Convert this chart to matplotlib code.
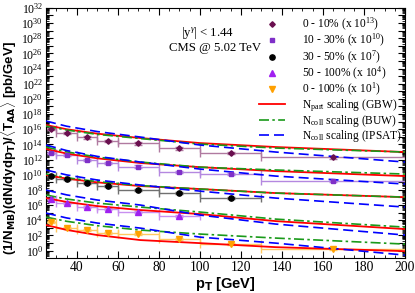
import matplotlib

matplotlib.use("Agg")
import matplotlib.pyplot as plt  # noqa: E402
import numpy as np  # noqa: E402
from matplotlib.lines import Line2D  # noqa: E402
from matplotlib.ticker import LogLocator, MultipleLocator, FixedLocator, NullFormatter, FuncFormatter  # noqa: E402

plt.rcParams["font.family"] = ["Liberation Serif", "DejaVu Serif"]
plt.rcParams["mathtext.fontset"] = "custom"
plt.rcParams["mathtext.rm"] = "Liberation Serif"
plt.rcParams["mathtext.it"] = "Liberation Serif:italic"

# pT bins of the CMS isolated-photon measurement
bin_lo = [25, 30, 40, 50, 60, 80, 100, 130]
bin_hi = [30, 40, 50, 60, 80, 100, 130, 200]

# scaled spectra (already multiplied by the factor in the legend)
cent_0_10 = [1.07e16, 2.9e15, 8.5e14, 3.0e14, 1.38e14, 3.0e13, 7.9e12, 1.95e12]
cent_10_30 = [7.9e12, 4.0e12, 8.7e11, 3.5e11, 1.2e11, 2.2e10, 1.23e10, 1.45e9]
cent_30_50 = [6.6e9, 2.7e9, 7.9e8, 3.2e8, 9.5e7, 3.8e7, 8.3e6]
cent_50_100 = [6.2e6, 1.8e6, 5.4e5, 3.0e5, 1.17e5, 3.5e4]
cent_0_100 = [5.6e3, 9.1e2, 5.0e2, 2.0e2, 1.5e2, 3.2e1, 7.1e0, 1.55e0]

# theory curves, sampled along pT (one row per centrality class)
curve_pt = [25, 35, 50, 71, 100, 137, 200]
gbw = [
    [3.6e16, 1.0e16, 2.6e15, 6.9e14, 1.5e14, 4.5e13, 9.8e12],
    [2.5e13, 6.2e12, 1.45e12, 3.5e11, 1.0e11, 3.0e10, 6.6e9],
    [9.1e9, 3.1e9, 9.8e8, 3.2e8, 1.3e8, 3.8e7, 1.1e7],
    [8.3e6, 2.6e6, 7.2e5, 2.2e5, 6.5e4, 7.6e3, 6.8e2],
    [2.3e3, 5.3e2, 1.1e2, 2.4e1, 9.5e0, 2.8e0, 8.3e-1],
]
buw = [
    [2.6e16, 7.9e15, 2.1e15, 5.9e14, 1.1e14, 3.3e13, 9.8e12],
    [4.5e13, 1.05e13, 2.1e12, 4.7e11, 1.0e11, 4.2e10, 1.23e10],
    [1.23e10, 4.0e9, 1.23e9, 3.7e8, 1.3e8, 3.8e7, 1.1e7],
    [2.1e7, 6.3e6, 1.8e6, 5.4e5, 1.2e5, 1.4e4, 1.23e3],
    [2.6e4, 7.2e3, 1.9e3, 5.0e2, 1.5e2, 4.4e1, 7.1e0],
]
ipsat = [
    [1.2e17, 2.5e16, 4.9e15, 9.3e14, 8.3e13, 9.8e12, 4.7e11],
    [8.3e13, 1.55e13, 2.6e12, 4.7e11, 5.6e10, 6.6e9, 5.9e8],
    [4.2e10, 9.5e9, 2.0e9, 4.4e8, 6.9e7, 8.3e6, 5.4e5],
    [9.6e7, 2.2e7, 4.6e6, 1.0e6, 4.8e4, 3.1e3, 1.1e2],
    [8.7e4, 2.0e4, 4.2e3, 9.1e2, 5.9e1, 9.5e0, 2.5e-1],
]

labels = [
    r"0 - 10% (x 10$^{13}$)",
    r"10 - 30% (x 10$^{10}$)",
    r"30 - 50% (x 10$^{7}$)",
    r"50 - 100% (x 10$^{4}$)",
    r"0 - 100% (x 10$^{1}$)",
]
series = [cent_0_10, cent_10_30, cent_30_50, cent_50_100, cent_0_100]
colors = ["#6a0f4f", "#7f2fc8", "#000000", "#a020f0", "#ffa000"]
ecolors = ["#b07aa0", "#b488e0", "#707070", "#c890f0", "#ffc860"]
markers = ["D", "s", "o", "^", "v"]
msizes = [2.8, 3.4, 3.8, 4.0, 4.0]

fig = plt.figure(figsize=(4.15, 2.93), dpi=100)
ax = fig.add_axes([0.111, 0.119, 0.865, 0.854])

lo = np.array(bin_lo, dtype=float)
hi = np.array(bin_hi, dtype=float)
centers = 0.5 * (lo + hi)
half = 0.5 * (hi - lo)

for vals, col, ecol, mk, ms in zip(series, colors, ecolors, markers, msizes):
    n = len(vals)
    y = np.array(vals)
    ax.errorbar(centers[:n], y, xerr=half[:n], yerr=[y * 0.3, y * 0.45],
                fmt="none", ecolor=ecol, elinewidth=1.0, capsize=3, capthick=1.0, zorder=2)
    ax.plot(centers[:n], y, linestyle="none", marker=mk, ms=ms, color=col, zorder=5)

for g, b, p in zip(gbw, buw, ipsat):
    ax.plot(curve_pt, g, color="#ff0000", lw=1.3, zorder=3)
    ax.plot(curve_pt, b, color="#1a9a1a", lw=1.2, dashes=(6, 2, 1.5, 2), zorder=3)
    ax.plot(curve_pt, p, color="#0000ff", lw=1.2, dashes=(6, 3), zorder=4)

ax.set_xlim(25, 200)
ax.set_ylim(1e-1, 1e32)
ax.set_yscale("log")
ax.xaxis.set_major_locator(MultipleLocator(20))
ax.xaxis.set_minor_locator(MultipleLocator(5))
ax.yaxis.set_major_locator(FixedLocator([10.0 ** k for k in range(0, 33)]))
ax.yaxis.set_minor_locator(LogLocator(base=10, subs=np.arange(2, 10), numticks=100))
ax.yaxis.set_minor_formatter(NullFormatter())
ax.yaxis.set_major_formatter(
    FuncFormatter(lambda v, _: "" if round(np.log10(v)) % 2 else r"10$^{%d}$" % round(np.log10(v))))
ax.tick_params(which="both", direction="in", top=True, right=True, pad=2)
ax.tick_params(axis="y", labelsize=8.5)
ax.tick_params(axis="x", labelsize=9.8)
ax.tick_params(which="major", length=5, width=0.8)
ax.tick_params(which="minor", length=2.5, width=0.6)
ax.set_xticks([40, 60, 80, 100, 120, 140, 160, 180, 200])

ax.set_xlabel(r"p$_\mathbf{T}$ [GeV]", fontsize=10.5, fontweight="bold",
              family="Liberation Sans", labelpad=1)
ax.set_ylabel(r"(1/N$_\mathbf{MB}$)(dN/dydp$_\mathbf{T}$)/$\langle$T$_\mathbf{AA}$$\rangle$ [pb/GeV]",
              fontsize=9.5, fontweight="bold", family="Liberation Sans")
ax.yaxis.set_label_coords(-0.075, 0.44)

ax.text(0.45, 0.9, r"|y$^{\gamma}$| < 1.44", transform=ax.transAxes, ha="center", va="center", fontsize=9.2)
ax.text(0.47, 0.84, "CMS @ 5.02 TeV", transform=ax.transAxes, ha="center", va="center", fontsize=9.2)

handles = [Line2D([], [], linestyle="none", marker=mk, ms=ms, color=col)
           for col, mk, ms in zip(colors, markers, msizes)]
handles += [
    Line2D([], [], color="#ff0000", lw=1.3),
    Line2D([], [], color="#1a9a1a", lw=1.2, dashes=(6, 2, 1.5, 2)),
    Line2D([], [], color="#0000ff", lw=1.2, dashes=(6, 3)),
]
leg_labels = labels + [r"N$_{\rm part}$ scaling (GBW)", r"N$_{\rm coll}$ scaling (BUW)",
                       r"N$_{\rm coll}$ scaling (IPSAT)"]
ax.legend(handles, leg_labels, loc="upper right", bbox_to_anchor=(1.005, 0.985), frameon=False,
          fontsize=8.3, handlelength=2.2, handletextpad=1.5, labelspacing=-0.07, borderaxespad=0.2,
          borderpad=0.2)

fig.savefig("out.png", dpi=100)
